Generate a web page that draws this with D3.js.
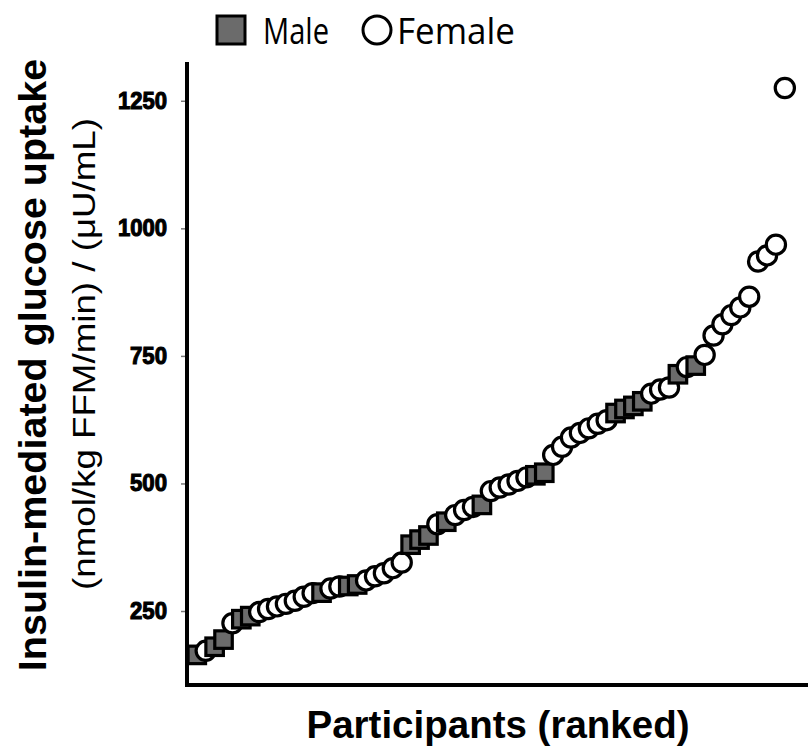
<!DOCTYPE html>
<html>
<head>
<meta charset="utf-8">
<script src="https://cdn.jsdelivr.net/npm/d3@7"></script>
<style>
  html, body { margin: 0; padding: 0; background: #fff; }
  svg { display: block; }
</style>
</head>
<body>
<svg id="chart" width="809" height="756"></svg>
<script>
// Insulin-mediated glucose uptake per participant, sorted ascending.
const uptake = [
  164, 172, 180, 194, 226, 234, 240, 248, 254, 259,
  264, 270, 278, 285, 286, 294, 298, 299, 302, 310,
  318, 324, 334, 345, 380, 390, 398, 420, 425, 438,
  448, 454, 458, 485, 492, 498, 505, 512, 516, 521,
  556, 572, 590, 599, 608, 617, 624, 638, 646, 652,
  661, 676, 684, 688, 714, 728, 731, 752, 790, 812,
  830, 845, 866, 935, 947, 968, 1275
];
// Sex of each participant, same order (M = male, F = female).
const sex = [
  "M","F","M","M","F","M","M","F","F","F",
  "F","F","F","F","M","F","F","M","M","F",
  "F","F","F","F","M","M","M","F","M","F",
  "F","F","M","F","F","F","F","F","M","M",
  "F","F","F","F","F","F","F","M","M","M",
  "M","F","F","F","M","F","M","F","F","F",
  "F","F","F","F","F","F","F"
];
const yTicks = [250, 500, 750, 1000, 1250];
const legendItems = [
  { key: "M", label: "Male" },
  { key: "F", label: "Female" }
];

const points = uptake.map((v, i) => ({ rank: i + 1, value: v, sex: sex[i] }));

const svg = d3.select("#chart");

const x = d3.scaleLinear().domain([-0.1, 69.6]).range([187, 808]);
const y = d3.scaleLinear().domain([105, 1326]).range([685, 62]);

const SQ = 17.5; // square side
const R = 9.6;   // circle radius
const maleFill = "#6b6b6b";

// Points, drawn in rank order
const marks = svg.append("g");
points.forEach(d => {
  if (d.sex === "M") {
    marks.append("rect")
      .attr("x", x(d.rank) - SQ / 2)
      .attr("y", y(d.value) - SQ / 2)
      .attr("width", SQ).attr("height", SQ)
      .attr("fill", maleFill)
      .attr("stroke", "#000").attr("stroke-width", 3.2);
  } else {
    marks.append("circle")
      .attr("cx", x(d.rank)).attr("cy", y(d.value)).attr("r", R)
      .attr("fill", "#fff")
      .attr("stroke", "#000").attr("stroke-width", 3.2);
  }
});

// Y axis
const yAxis = d3.axisLeft(y).tickValues(yTicks).tickFormat(d3.format("d"))
  .tickSize(6).tickPadding(14);
const gy = svg.append("g").attr("transform", "translate(187,0)").call(yAxis);
gy.select(".domain").remove();
gy.selectAll(".tick line").attr("stroke", "#777").attr("stroke-width", 1.5);
gy.selectAll(".tick text")
  .attr("font-family", "'Liberation Sans', Arial, sans-serif")
  .attr("font-weight", "900")
  .attr("font-size", 23.5)
  .attr("fill", "#000")
  .attr("textLength", 49)
  .attr("lengthAdjust", "spacingAndGlyphs")
  .style("paint-order", "stroke")
  .attr("stroke", "#000").attr("stroke-width", 1.1);
gy.selectAll(".tick text").filter(d => d < 1000).attr("textLength", 37);

// Axis lines
svg.append("line").attr("x1", 187).attr("x2", 187).attr("y1", 62).attr("y2", 687)
  .attr("stroke", "#000").attr("stroke-width", 4);
svg.append("line").attr("x1", 185).attr("x2", 808).attr("y1", 685).attr("y2", 685)
  .attr("stroke", "#000").attr("stroke-width", 4);

// Axis titles
svg.append("text")
  .attr("transform", "translate(46,365) rotate(-90)")
  .attr("text-anchor", "middle")
  .attr("font-family", "'Liberation Sans', Arial, sans-serif")
  .attr("font-weight", "bold")
  .attr("font-size", 39.5)
  .text("Insulin-mediated glucose uptake");
svg.append("text")
  .attr("transform", "translate(95,354) rotate(-90)")
  .attr("text-anchor", "middle")
  .attr("font-family", "'Liberation Sans', Arial, sans-serif")
  .attr("font-size", 32)
  .attr("textLength", 472)
  .attr("lengthAdjust", "spacingAndGlyphs")
  .text("(nmol/kg FFM/min) / (μU/mL)");
svg.append("text")
  .attr("x", 498).attr("y", 738)
  .attr("text-anchor", "middle")
  .attr("font-family", "'Liberation Sans', Arial, sans-serif")
  .attr("font-weight", "bold")
  .attr("font-size", 38.5)
  .text("Participants (ranked)");

// Legend
const legend = svg.append("g");
legend.append("rect").attr("x", 217).attr("y", 16).attr("width", 28).attr("height", 28)
  .attr("fill", maleFill).attr("stroke", "#000").attr("stroke-width", 3);
legend.append("text").attr("x", 263).attr("y", 44)
  .attr("font-family", "'Open Sans', sans-serif").attr("font-size", 37)
  .attr("textLength", 66).attr("lengthAdjust", "spacingAndGlyphs")
  .text(legendItems[0].label);
legend.append("circle").attr("cx", 377).attr("cy", 30).attr("r", 14)
  .attr("fill", "#fff").attr("stroke", "#000").attr("stroke-width", 3);
legend.append("text").attr("x", 397).attr("y", 44)
  .attr("font-family", "'Open Sans', sans-serif").attr("font-size", 37)
  .attr("textLength", 118).attr("lengthAdjust", "spacingAndGlyphs")
  .text(legendItems[1].label);
</script>
</body>
</html>
